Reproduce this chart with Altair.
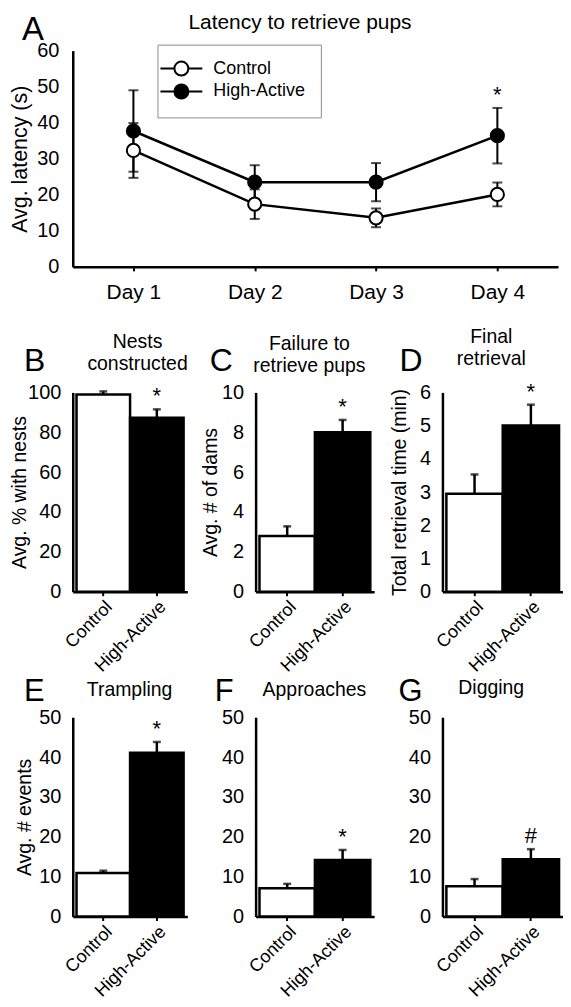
import altair as alt
import pandas as pd

FONT = "Liberation Sans"

# ---------------- data ----------------
days = ["Day 1", "Day 2", "Day 3", "Day 4"]
ctrl_latency = [32.3, 17.4, 13.6, 20.1]
ctrl_latency_err = [7.6, 4.1, 2.6, 3.3]
ha_latency = [37.7, 23.5, 23.5, 36.4]
ha_latency_err = [11.3, 4.7, 5.3, 7.7]
latency_sig = ["", "", "", "*"]

groups = ["Control", "High-Active"]
nests = [99.0, 87.3]
nests_err = [1.5, 4.2]
nests_sig = ["", "*"]
failure = [2.8, 8.0]
failure_err = [0.48, 0.62]
failure_sig = ["", "*"]
final_ret = [2.95, 5.0]
final_ret_err = [0.58, 0.63]
final_sig = ["", "*"]
trampling = [10.9, 41.1]
trampling_err = [0.6, 2.7]
trampling_sig = ["", "*"]
approaches = [7.1, 14.2]
approaches_err = [1.1, 2.5]
approaches_sig = ["", "*"]
digging = [7.6, 14.4]
digging_err = [1.8, 2.5]
digging_sig = ["", "#"]

# panel sizes (plot areas)
W1, W2, W3 = 115, 119, 121
H = 200
H_A, RANGE_A = 217, 487

fill_scale = alt.Scale(domain=groups, range=["white", "black"])


def text_layer(text, x, y, size, align="center", line_height=23):
    return alt.Chart(pd.DataFrame({"t": [text]})).mark_text(
        font=FONT, fontSize=size, align=align, baseline="alphabetic",
        color="black", lineBreak="\n", lineHeight=line_height
    ).encode(text="t:N", x=alt.value(x), y=alt.value(y))


# ---------------- panel A ----------------
rows = []
for g, m, e in (("Control", ctrl_latency, ctrl_latency_err),
                ("High-Active", ha_latency, ha_latency_err)):
    for i, d in enumerate(days):
        rows.append(dict(group=g, day=d, mean=m[i], lo=m[i] - e[i], hi=m[i] + e[i],
                         sig=latency_sig[i] if g == "High-Active" else ""))
dfA = pd.DataFrame(rows)

xA = alt.X("day:N", sort=days,
           scale=alt.Scale(type="point", padding=0.5, range=[0, RANGE_A]),
           axis=alt.Axis(title=None, labelAngle=0, tickSize=4, labelPadding=11,
                         labelFontSize=21))
ysA = alt.Scale(domain=[0, 60], nice=False)
yaA = alt.Axis(title="Avg. latency (s)", values=[0, 10, 20, 30, 40, 50, 60],
               ticks=False, labelPadding=14, titleFontSize=21.5, titleX=-41)

baseA = alt.Chart(dfA)
errA = baseA.mark_rule(color="black", strokeWidth=2).encode(
    x=xA, y=alt.Y("lo:Q", scale=ysA, axis=yaA), y2="hi:Q")
capLoA = baseA.mark_tick(color="black", size=10, thickness=2).encode(
    x=xA, y=alt.Y("lo:Q", scale=ysA, axis=yaA))
capHiA = baseA.mark_tick(color="black", size=10, thickness=2).encode(
    x=xA, y=alt.Y("hi:Q", scale=ysA, axis=yaA))
lineA = baseA.mark_line(color="black", strokeWidth=2.5).encode(
    x=xA, y=alt.Y("mean:Q", scale=ysA, axis=yaA), detail="group:N")
legendA = alt.Legend(
    title=None, orient="none", legendX=85, legendY=-6, direction="vertical",
    symbolType="M-3,0L-1,0M1,0L3,0M1,0A1,1,0,1,1,-1,0A1,1,0,1,1,1,0Z",
    symbolSize=196, symbolStrokeColor="black", symbolStrokeWidth=2,
    labelFont=FONT, labelFontSize=18, labelColor="black", labelOffset=23,
    strokeColor="#8c8c8c", padding=15, rowPadding=1)
ptsA = baseA.mark_point(filled=True, size=175, stroke="black", strokeWidth=2, opacity=1).encode(
    x=xA, y=alt.Y("mean:Q", scale=ysA, axis=yaA),
    fill=alt.Fill("group:N", scale=fill_scale, legend=legendA))
sigA = baseA.mark_text(font=FONT, fontSize=22, dy=-13, color="black").encode(
    x=xA, y=alt.Y("hi:Q", scale=ysA, axis=yaA), text="sig:N")
# invisible layout anchor: fixes the top-left corner of the figure
anchorA = alt.Chart(pd.DataFrame({"a": [0]})).mark_rule(opacity=0, strokeWidth=0.5).encode(
    x=alt.value(-64.75), y=alt.value(-40.75), y2=alt.value(-35))

panelA = alt.layer(
    anchorA, errA, capLoA, capHiA, lineA, ptsA, sigA,
    text_layer("Latency to retrieve pups", 228, -22, 21),
    text_layer("A", -51, -11, 33, align="left"),
).properties(width=W1, height=H_A)


# ---------------- bar panels ----------------
def bar_panel(vals, errs, sigs, ymax, ystep, ytitle, title_x, title_y, title_lines,
              letter, letter_x, letter_y, letter_size, width, title_pos=None):
    df = pd.DataFrame({"group": groups, "val": vals,
                       "hi": [v + e for v, e in zip(vals, errs)], "sig": sigs})
    x = alt.X("group:N", sort=groups,
              scale=alt.Scale(paddingInner=0, paddingOuter=0.07),
              axis=alt.Axis(title=None, labelAngle=-45, labelAlign="right",
                            labelBaseline="top", tickSize=4, labelPadding=2,
                            labelFontSize=18))
    ys = alt.Scale(domain=[0, ymax], nice=False)
    ticks = [ystep * i for i in range(int(round(ymax / ystep)) + 1)]
    if ytitle:
        ya = alt.Axis(title=ytitle, values=ticks, ticks=False, labelPadding=12,
                      titleX=title_pos)
    else:
        ya = alt.Axis(title=None, values=ticks, ticks=False, labelPadding=12)
    base = alt.Chart(df)
    bars = base.mark_bar(stroke="black", strokeWidth=2.5).encode(
        x=x, y=alt.Y("val:Q", scale=ys, axis=ya),
        fill=alt.Fill("group:N", scale=fill_scale, legend=None))
    err = base.mark_rule(color="black", strokeWidth=2.5).encode(
        x=x, y=alt.Y("val:Q", scale=ys, axis=ya), y2="hi:Q")
    cap = base.mark_tick(color="black", size=8, thickness=2.5).encode(
        x=x, y=alt.Y("hi:Q", scale=ys, axis=ya))
    sig = base.mark_text(font=FONT, fontSize=22, dy=-13, color="black").encode(
        x=x, y=alt.Y("hi:Q", scale=ys, axis=ya), text="sig:N")
    return alt.layer(
        bars, err, cap, sig,
        text_layer(title_lines, title_x, title_y, 19.5),
        text_layer(letter, letter_x, letter_y, letter_size, align="left"),
    ).properties(width=width, height=H)


panelB = bar_panel(nests, nests_err, nests_sig, 100, 20, "Avg. % with nests",
                   65, -45, "Nests\nconstructed", "B", -49, -21, 32, W1, title_pos=-43)
panelC = bar_panel(failure, failure_err, failure_sig, 10, 2, "Avg. # of dams",
                   54, -43, "Failure to\nretrieve pups", "C", -46, -21, 32, W2, title_pos=-35)
panelD = bar_panel(final_ret, final_ret_err, final_sig, 6, 1, "Total retrieval time (min)",
                   49, -50, "Final\nretrieval", "D", -43, -21, 32, W3, title_pos=-33)
panelE = bar_panel(trampling, trampling_err, trampling_sig, 50, 10, "Avg. # events",
                   57, -21, "Trampling", "E", -49, -16, 31, W1, title_pos=-38)
panelF = bar_panel(approaches, approaches_err, approaches_sig, 50, 10, None,
                   59, -21, "Approaches", "F", -41, -16, 31, W2)
panelG = bar_panel(digging, digging_err, digging_sig, 50, 10, None,
                   49, -23, "Digging", "G", -44, -16, 31, W3)


def spacer(width):
    return alt.Chart(pd.DataFrame({"d": [0]})).mark_point(opacity=0).encode(
        x=alt.value(0), y=alt.value(0)).properties(width=width, height=H_A)


chart = alt.concat(
    panelA, spacer(W2), spacer(W3),
    panelB, panelC, panelD,
    panelE, panelF, panelG,
    columns=3, spacing={"row": 126, "column": 68.5}, bounds="flush",
).properties(
    padding={"left": 0, "top": 0, "right": 0, "bottom": 0},
    background="white",
).configure_view(stroke=None).configure_axis(
    domainColor="black", domainWidth=2.5, tickColor="black", tickWidth=2,
    grid=False, labelFont=FONT, labelFontSize=20, labelColor="black",
    titleFont=FONT, titleFontSize=19.5, titleFontWeight="normal", titleColor="black",
).configure_text(font=FONT)

chart.save("out.html", embed_options={"renderer": "svg", "actions": False})
